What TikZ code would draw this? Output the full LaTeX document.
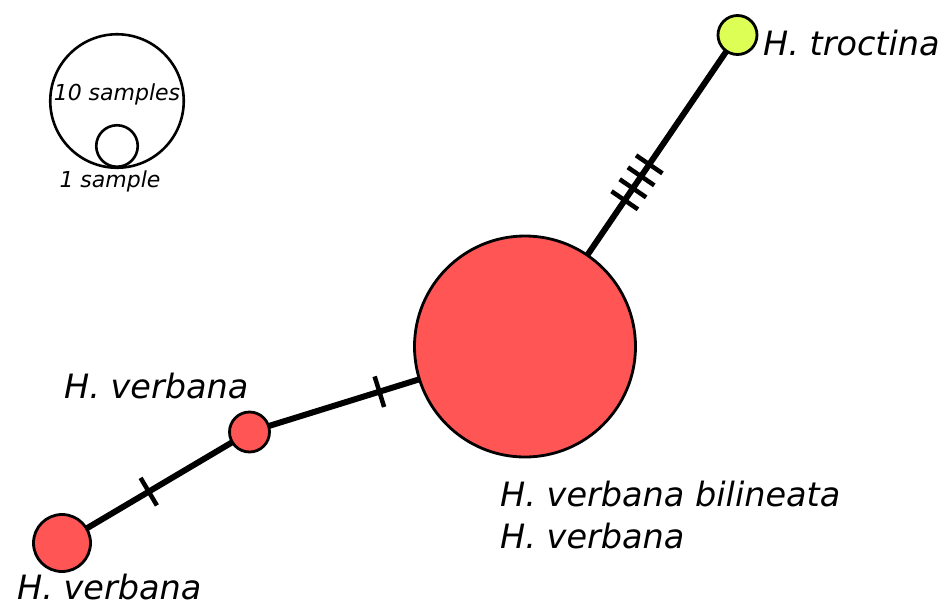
\documentclass[tikz,border=0pt]{standalone}
\usepackage{fontspec}
\setmainfont{DejaVu Sans}
\usetikzlibrary{decorations.markings}
\pgfdeclarelayer{background}
\pgfsetlayers{background,main}
\definecolor{hapred}{RGB}{255,85,85}
\definecolor{hapyel}{RGB}{221,255,85}
\tikzset{
  hap/.style={circle, draw=black, line width=2.8pt, inner sep=0pt, outer sep=0pt},
  legcirc/.style={circle, draw=black, line width=2.6pt, inner sep=0pt, outer sep=0pt},
  edge/.style={line width=6pt, draw=black},
  taxon/.style={font=\fontsize{33.5}{42}\selectfont\itshape, inner sep=0pt, anchor=base west},
  legtext/.style={font=\fontsize{22}{26}\selectfont\itshape, inner sep=0pt, anchor=base},
  tick/.style={line width=4.5pt}
}
\begin{document}
\begin{tikzpicture}[x=1pt,y=-1pt]
\useasboundingbox (0,0) rectangle (946,606);
% legend
\node[legcirc, minimum size=133.5pt] (leg10) at (117,101) {};
\node[legcirc, minimum size=41.5pt] (leg1) at (117,146) {};
\node[legtext] (t10) at (117,100) {10 samples};
\node[legtext] (t1) at (110,187) {1 sample};
% haplotypes
\node[hap, fill=hapred, minimum size=221pt] (big) at (525,346.5) {};
\node[hap, fill=hapyel, minimum size=39pt] (troc) at (737.5,35) {};
\node[hap, fill=hapred, minimum size=40pt] (mid) at (249.5,432) {};
\node[hap, fill=hapred, minimum size=57pt] (bot) at (62,543) {};
% labels
\node[taxon] (ltroc) at (763,55) {H. troctina};
\node[taxon] (lmid) at (64,398) {H. verbana};
\node[taxon] (lbot) at (17,599) {H. verbana};
\node[taxon] (lbig1) at (500,506) {H. verbana bilineata};
\node[taxon] (lbig2) at (500,548) {H. verbana};
% edges
\begin{pgfonlayer}{background}
\draw[edge, postaction={decorate, decoration={markings,
   mark=at position 177pt with {\draw[tick] (0,-16) -- (0,16);},
   mark=at position 191.5pt with {\draw[tick] (0,-16) -- (0,16);},
   mark=at position 206pt with {\draw[tick] (0,-16) -- (0,16);},
   mark=at position 220.5pt with {\draw[tick] (0,-16) -- (0,16);}}}]
   (big.center) -- (troc.center);
\draw[edge, postaction={decorate, decoration={markings,
   mark=at position 136pt with {\draw[tick] (0,-16) -- (0,16);}}}]
   (mid.center) -- (big.center);
\draw[edge, postaction={decorate, decoration={markings,
   mark=at position 100.8pt with {\draw[tick] (0,-16) -- (0,16);}}}]
   (bot.center) -- (mid.center);
\end{pgfonlayer}
\end{tikzpicture}
\end{document}
